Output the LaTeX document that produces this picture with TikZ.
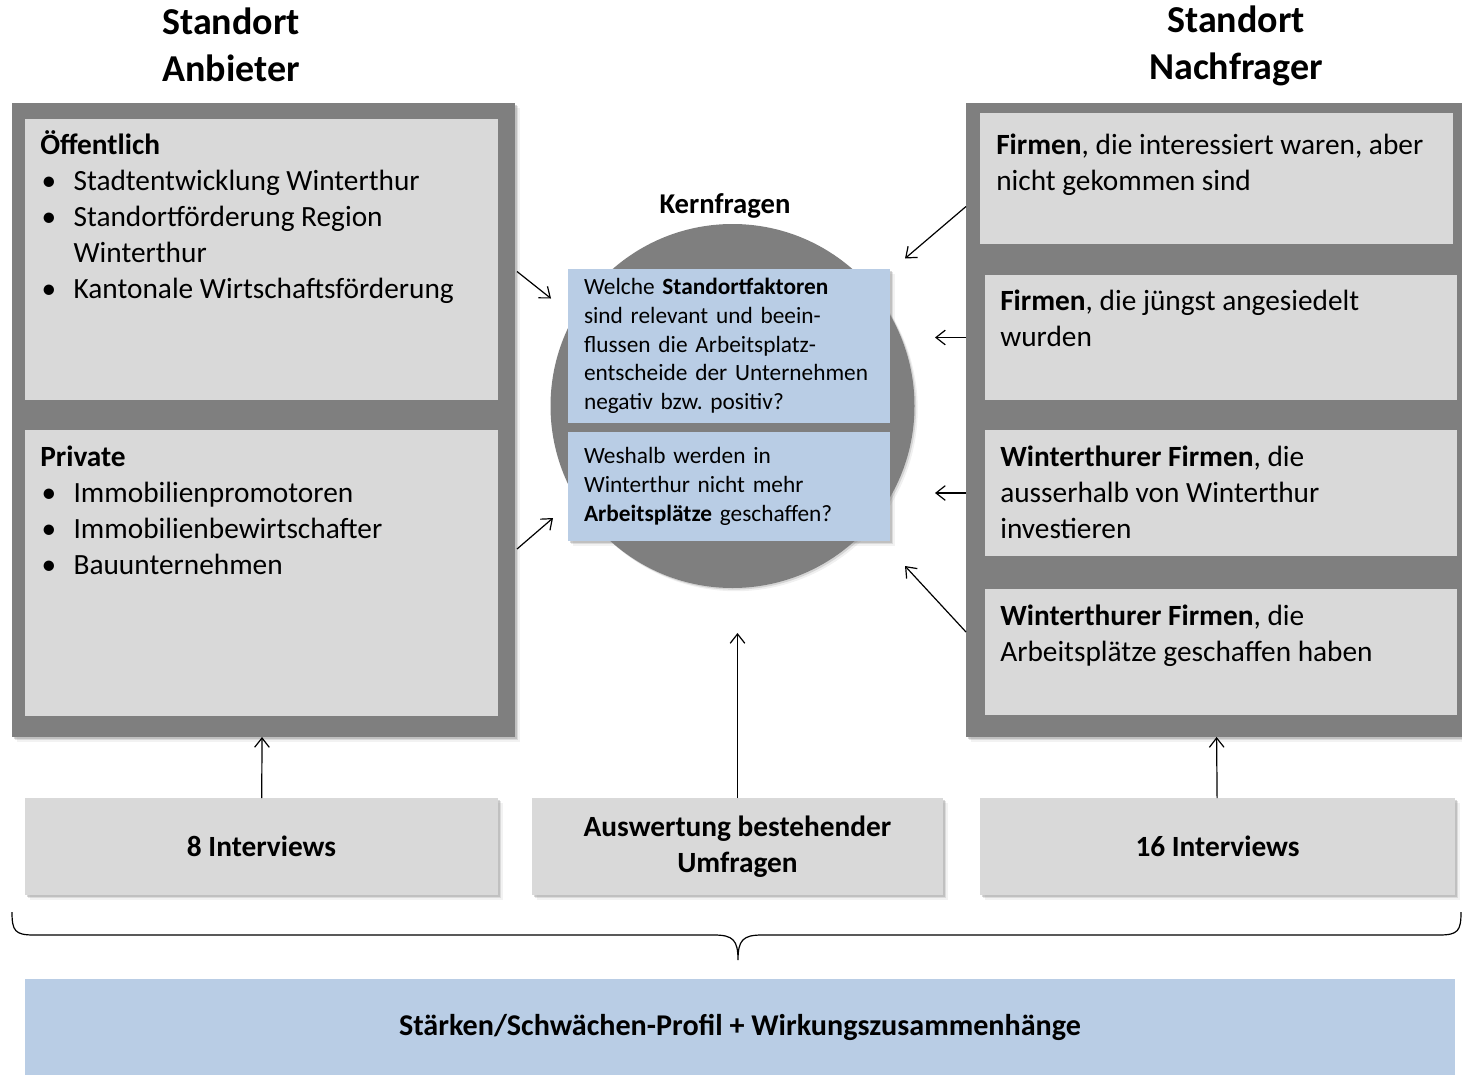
\documentclass[tikz,border=0pt]{standalone}
\usepackage{fontspec}
\setmainfont{Carlito}
\usetikzlibrary{arrows.meta, shadows, calc}

\newcommand{\bodyfont}{\fontsize{22}{27}\selectfont}
\newcommand{\askfont}{\fontsize{17.5}{21.5}\selectfont}
\newcommand{\bul}{\makebox[25pt][l]{\hspace*{1pt}\textbullet}}
\frenchspacing

\definecolor{panelgray}{HTML}{7F7F7F}
\definecolor{boxgray}{HTML}{D9D9D9}
\definecolor{askblue}{HTML}{B9CDE5}

\begin{document}
\begin{tikzpicture}[x=0.75pt,y=0.75pt,yscale=-1,xscale=1,
  softshadow/.style={
    drop shadow={shadow xshift=1.2pt,shadow yshift=-1.2pt,opacity=.3},
    drop shadow={shadow xshift=2.4pt,shadow yshift=-2.4pt,opacity=.2},
    drop shadow={shadow xshift=3.6pt,shadow yshift=-3.6pt,opacity=.1}},
  panel/.style={fill=panelgray, inner sep=0pt, outer sep=0pt, softshadow},
  box/.style={fill=boxgray, inner sep=0pt, outer sep=0pt, softshadow},
  askbox/.style={fill=askblue, inner xsep=12pt, inner ysep=0pt, outer sep=0pt,
    text width=217.5pt, align=left, font=\askfont, softshadow},
  boxtext/.style={anchor=north west, inner sep=0pt, align=left, font=\bodyfont},
  arr/.style={-{Straight Barb[length=7pt,width=11pt]}, line width=0.9pt}]
\useasboundingbox (0,0) rectangle (1462,1074);

% Titles
\node[align=center, font=\fontsize{28.5}{35}\selectfont\bfseries] (titleL) at (231,45) {Standort\\Anbieter};
\node[align=center, font=\fontsize{28.5}{35}\selectfont\bfseries] (titleR) at (1236,46) {Standort\\Nachfrager};

% Left panel
\node[panel, minimum width=377.25pt, minimum height=475.5pt] (leftPanel) at (263.5,420) {};
\node[box, minimum width=354.75pt, minimum height=210.75pt] (oeff) at (261.5,259.5) {};
\node[box, minimum width=354.75pt, minimum height=214.5pt] (priv) at (261.5,573) {};
\node[boxtext] (oeffTxt) at ($(oeff.north west)+(15,11)$) {\textbf{Öffentlich}\\
  \bul Stadtentwicklung Winterthur\\
  \bul Standortförderung Region\\
  \hspace*{25pt}Winterthur\\
  \bul Kantonale Wirtschaftsförderung};
\node[boxtext] (privTxt) at ($(priv.north west)+(15,16)$) {\textbf{Private}\\
  \bul Immobilienpromotoren\\
  \bul Immobilienbewirtschafter\\
  \bul Bauunternehmen};

% Right panel
\node[panel, minimum width=372pt, minimum height=475.5pt] (rightPanel) at (1214,420) {};
\node[box, minimum width=354.75pt, minimum height=98.25pt] (firm1) at (1216.5,178.5) {};
\node[box, minimum width=354pt, minimum height=93.75pt] (firm2) at (1221,337.5) {};
\node[box, minimum width=354pt, minimum height=94.5pt] (firm3) at (1221,493) {};
\node[box, minimum width=354pt, minimum height=94.5pt] (firm4) at (1221,652) {};
\node[boxtext] (firm1Txt) at ($(firm1.north west)+(16,21)$) {\textbf{Firmen}, die interessiert waren, aber\\nicht gekommen sind};
\node[boxtext] (firm2Txt) at ($(firm2.north west)+(15,15)$) {\textbf{Firmen}, die jüngst angesiedelt\\wurden};
\node[boxtext] (firm3Txt) at ($(firm3.north west)+(15,16)$) {\textbf{Winterthurer Firmen}, die\\ausserhalb von Winterthur\\investieren};
\node[boxtext] (firm4Txt) at ($(firm4.north west)+(15,16)$) {\textbf{Winterthurer Firmen}, die\\Arbeitsplätze geschaffen haben};

% Kernfragen
\node[font=\fontsize{21.5}{26}\selectfont\bfseries] (kern) at (725,206) {Kernfragen};
\node[circle, fill=panelgray, minimum size=273pt, inner sep=0pt,
  drop shadow={shadow xshift=1.2pt,shadow yshift=-1.2pt,opacity=.25},
  drop shadow={shadow xshift=2.4pt,shadow yshift=-2.4pt,opacity=.12}] (kreis) at (732.5,406) {};
\node[askbox, minimum height=115.5pt] (q1) at (729,346) {Welche \textbf{Standortfaktoren}\\sind relevant und beein-\\flussen die Arbeitsplatz-\\entscheide der Unternehmen\\negativ bzw. positiv?};
\node[askbox, minimum height=81.75pt] (q2) at (729,486.5) {Weshalb werden in\\Winterthur nicht mehr\\\textbf{Arbeitsplätze} geschaffen?};

% Sources
\node[box, minimum width=354.75pt, minimum height=72.75pt, font=\bodyfont\bfseries] (iv8) at (261.5,846.5) {8 Interviews};
\node[box, minimum width=308.25pt, minimum height=72.75pt, align=center, font=\bodyfont\bfseries] (ausw) at (737.5,846.5) {Auswertung bestehender\\Umfragen};
\node[box, minimum width=356.25pt, minimum height=72.75pt, font=\bodyfont\bfseries] (iv16) at (1217.5,846.5) {16 Interviews};

% Result
\node[fill=askblue, minimum width=1072.5pt, minimum height=72pt, inner sep=0pt, font=\fontsize{22.6}{27}\selectfont\bfseries] (result) at (740,1027) {Stärken/Schwächen-Profil + Wirkungszusammenhänge};

% Connection
\draw[arr] ($(leftPanel.east |- oeff)+(2,12)$) -- ++(34,27);
\draw[arr] ($(leftPanel.east |- priv)+(2,-24)$) -- ++(36,-31);
\draw[arr] ($(rightPanel.west |- firm1)+(0,28)$) -- ++(-61,52);
\draw[arr] (rightPanel.west |- firm2) -- ++(-31,0);
\draw[arr] (rightPanel.west |- firm3) -- ++(-31,0);
\draw[arr] ($(rightPanel.west |- firm4)+(0,-20)$) -- ++(-61,-66);
\draw[arr] (iv8) -- (leftPanel);
\draw[arr] (ausw.north) -- ++(0,-165);
\draw[arr] (iv16) -- (rightPanel);

% Brace
\coordinate (brL) at (12,912);
\coordinate (brR) at (1461,912);
\coordinate (brTip) at (738,960);
\draw[line width=0.9pt] (brL) .. controls (12,931) and (15,935) .. (34,935) -- (714,935)
  .. controls (733,935) and (738,940) .. (brTip)
  .. controls (738,940) and (743,935) .. (762,935) -- (1439,935)
  .. controls (1458,935) and (1461,931) .. (brR);

\end{tikzpicture}
\end{document}
